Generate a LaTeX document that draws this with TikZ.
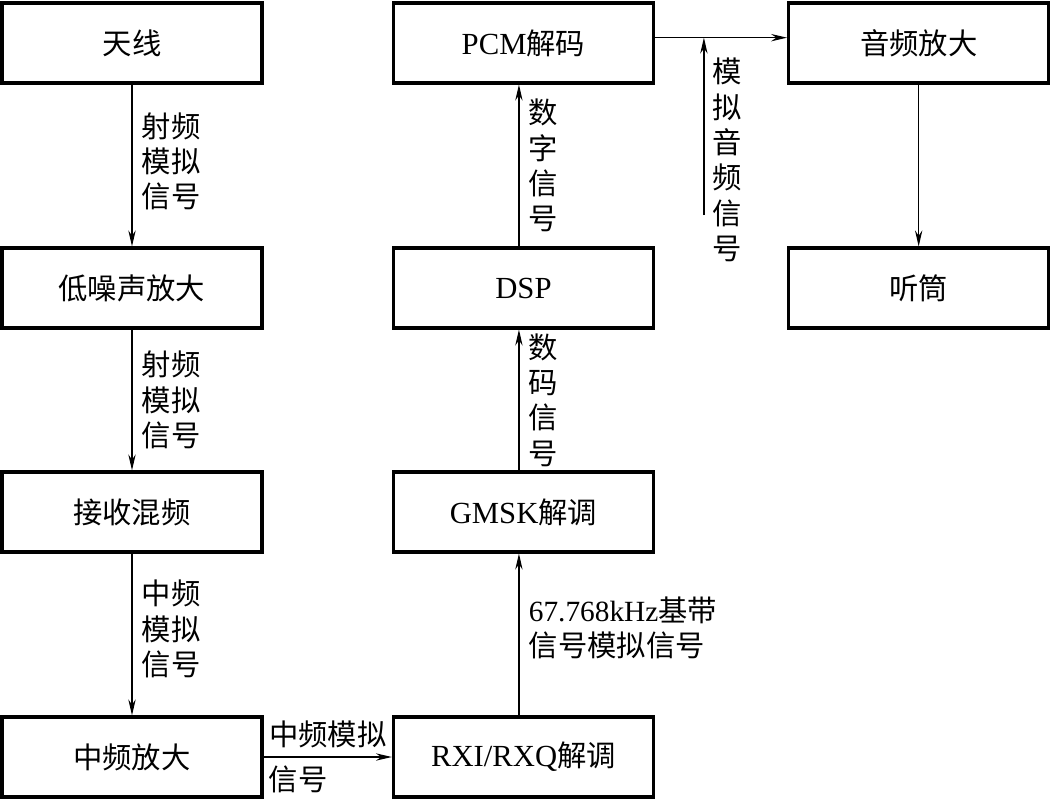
\documentclass[tikz,border=0pt]{standalone}
\usepackage{fontspec}
\setmainfont{Liberation Serif}
\newfontfamily\cjk{Noto Sans CJK SC}
\newcommand{\zh}[1]{{\fontsize{22pt}{26pt}\selectfont\cjk #1}}
\usetikzlibrary{positioning,arrows.meta}

\begin{document}
\begin{tikzpicture}[
    node distance=96.2pt,
    font=\fontsize{23pt}{26pt}\selectfont,
    blk/.style={rectangle, draw=black, line width=2.4pt, minimum width=195pt, minimum height=60pt, align=center},
    sig/.style={-{Stealth[length=12pt,width=5.5pt,inset=4pt]}, line width=0.9pt},
    lbl/.style={font=\fontsize{22pt}{26.5pt}\selectfont\cjk, align=center, inner sep=1pt}
  ]
  \useasboundingbox (0,0) rectangle (788.25pt,-600pt);

  % left column
  \node[blk] (tianxian) at (99pt,-32.25pt) {\zh{天线}};
  \node[blk, below=121.35pt of tianxian] (dizao) {\zh{低噪声放大}};
  \node[blk, below=105.6pt of dizao] (hunpin) {\zh{接收混频}};
  \node[blk, below=121.35pt of hunpin] (zhongpin) {\zh{中频放大}};

  % middle and right columns
  \node[blk, right=96.2pt of tianxian] (pcm) {PCM\zh{解码}};
  \node[blk, right=99pt of pcm] (yinpin) {\zh{音频放大}};
  \node[blk, below=121.35pt of pcm] (dsp) {DSP};
  \node[blk, below=121.35pt of yinpin] (tingtong) {\zh{听筒}};
  \node[blk, below=105.6pt of dsp] (gmsk) {GMSK\zh{解调}};
  \node[blk, below=121.35pt of gmsk] (rxi) {RXI/RXQ\zh{解调}};

  % signals
  \draw[sig] (tianxian) -- node[lbl, right=6pt, yshift=3pt] {射频\\模拟\\信号} (dizao);
  \draw[sig] (dizao) -- node[lbl, right=6pt] {射频\\模拟\\信号} (hunpin);
  \draw[sig] (hunpin) -- node[lbl, right=6pt, yshift=4pt] {中频\\模拟\\信号} (zhongpin);
  \draw[sig] (zhongpin) -- node[lbl, above=5pt] {中频模拟} node[lbl, below=5pt, pos=0.27] {信号} (rxi);
  \draw[sig] ([xshift=-3.4pt]rxi.north) -- node[lbl, right=6pt, align=left, yshift=5pt] {{\rmfamily 67.768kHz}基带\\信号模拟信号} ([xshift=-3.4pt]gmsk.south);
  \draw[sig] ([xshift=-3.4pt]gmsk.north) -- node[lbl, right=6pt] {数\\码\\信\\号} ([xshift=-3.4pt]dsp.south);
  \draw[sig] ([xshift=-3.4pt]dsp.north) -- node[lbl, right=6pt] {数\\字\\信\\号} ([xshift=-3.4pt]pcm.south);
  \draw[sig] ([yshift=4pt]pcm.east) -- coordinate[pos=0.37] (tap) ([yshift=4pt]yinpin.west);
  \coordinate (src) at ([yshift=-133pt]tap);
  \draw[sig] (src) -- node[lbl, right=5pt, pos=0.31] {模\\拟\\音\\频\\信\\号} (tap);
  \draw[sig] (yinpin) -- (tingtong);
\end{tikzpicture}
\end{document}
